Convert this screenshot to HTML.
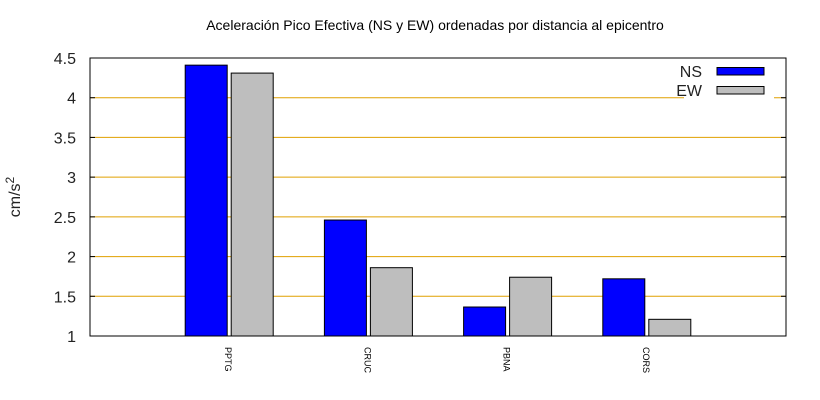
<!DOCTYPE html>
<html><head><meta charset="utf-8"><style>
body{margin:0;background:#fff;}
svg{display:block;font-family:"Liberation Sans",sans-serif;}
</style></head><body>
<svg id="chart" width="820" height="400">
<text x="435" y="30" text-anchor="middle" font-size="14">Aceleración Pico Efectiva (NS y EW) ordenadas por distancia al epicentro</text>
<text transform="translate(20,197) rotate(-90)" text-anchor="middle" font-size="16" fill="#222">cm/s<tspan dy="-6" font-size="12">2</tspan></text>
<g id="grid"></g><g id="bars"></g><g id="axes"></g>
</svg>
<script>
const categories=["PPTG","CRUC","PBNA","CORS"];
const nsValues=[4.41,2.46,1.365,1.72];
const ewValues=[4.31,1.86,1.74,1.21];
const yTicks=[1,1.5,2,2.5,3,3.5,4,4.5];
const L=90,R=786,T=58,B=336,yMin=1,yMax=4.5;
const y=v=>B-(v-yMin)/(yMax-yMin)*(B-T);
const slot=(R-L)/(categories.length+1);
const xc=i=>L+(i+1)*slot;
const NS="http://www.w3.org/2000/svg";
function mk(tag,attrs,parent){const e=document.createElementNS(NS,tag);for(const k in attrs)e.setAttribute(k,attrs[k]);parent.appendChild(e);return e;}
const grid=document.getElementById('grid'),bars=document.getElementById('bars'),axes=document.getElementById('axes');
yTicks.forEach(t=>{
 if(t>yMin&&t<yMax){const g=mk('line',{x1:L,x2:R,y1:y(t),y2:y(t),stroke:'#e0a000','stroke-width':1},grid);
 
 }
 const tk=mk('line',{x1:L,x2:L+5,y1:y(t),y2:y(t),stroke:'#000'},axes);
 
 
 const tk2=mk('line',{x1:R-5,x2:R,y1:y(t),y2:y(t),stroke:'#000'},axes);
 
 
 const lb=mk('text',{x:76,y:y(t)+6,'text-anchor':'end','font-size':16,fill:'#222'},axes);
 lb.textContent=String(t);
 
 
});
categories.forEach((c,i)=>{
 const cx=xc(i);
 const b1=mk('rect',{x:cx-44,y:y(nsValues[i]),width:42,height:B-y(nsValues[i]),fill:'#0000ff',stroke:'#000','stroke-width':1},bars);
 
 
 const b2=mk('rect',{x:cx+2,y:y(ewValues[i]),width:42,height:B-y(ewValues[i]),fill:'#bebebe',stroke:'#000','stroke-width':1},bars);
 
 
 const lb=mk('text',{transform:`translate(${cx-4},347) rotate(90)`,'font-size':9},axes);
 lb.textContent=c;
 
 
});
// legend
const lg=mk('g',{},axes);


mk('rect',{x:684,y:60,width:90,height:42,fill:'#fff'},lg);
[["NS","#0000ff",71],["EW","#bebebe",90]].forEach(([n,col,yy])=>{
 const t=mk('text',{x:702,y:yy+6,'text-anchor':'end','font-size':16,fill:'#222'},lg);
 t.textContent=n;
 
 
 const s=mk('rect',{x:717,y:yy-3.5,width:47,height:7.5,fill:col,stroke:'#000'},lg);
 
 
});
const fr=mk('rect',{x:L,y:T,width:R-L,height:B-T,fill:'none',stroke:'#000','stroke-width':1},axes);


</script>
</body></html>
